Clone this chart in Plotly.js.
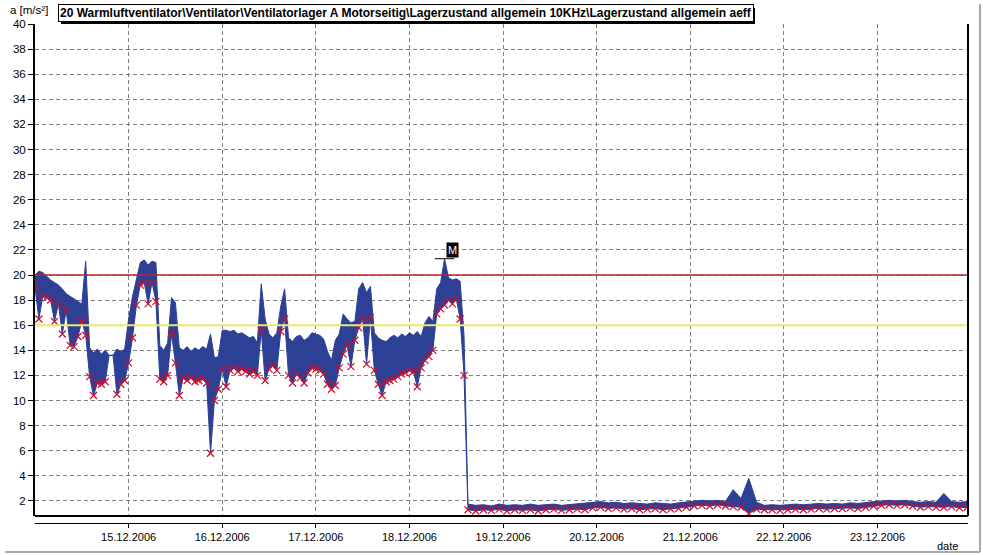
<!DOCTYPE html>
<html><head><meta charset="utf-8">
<script src="https://cdn.plot.ly/plotly-3.0.1.min.js"></script>
<style>html,body{margin:0;padding:0;background:#fff;}#chart{width:983px;height:555px;}</style>
</head><body><div id="chart"></div>
<script>
// ---- data ----
const segAStart = [2006, 11, 14, 0];   // 14.12.2006 00:00, hourly samples
const segAStepHours = 1;
const segAHi = [20.0,20.3,20.2,19.9,19.6,19.4,19.2,18.9,18.5,18.3,18.1,17.9,17.7,21.1,14.2,13.8,14.1,13.7,14.0,13.6,
  13.6,14.1,13.9,14.1,16.5,18.3,19.6,21.0,21.2,20.8,21.1,21.0,14.4,14.0,14.6,18.2,17.8,14.2,14.0,14.3,
  13.9,14.2,14.0,14.3,14.1,15.3,13.4,13.5,15.6,15.6,15.5,15.6,15.3,15.4,15.2,15.0,15.1,14.6,19.3,16.5,
  15.3,15.0,15.4,17.5,18.9,15.0,14.7,15.1,15.2,14.8,15.0,15.4,15.3,15.2,14.9,13.9,13.2,14.8,15.3,16.9,
  16.5,16.2,16.3,18.9,19.4,18.6,19.1,15.4,15.0,14.8,14.7,15.0,15.2,15.0,15.3,15.1,15.4,15.2,15.5,15.1,
  16.2,16.7,16.3,18.9,19.4,21.3,19.8,19.6,19.7,19.5,15.1];
const segALo = [19.0,16.5,18.3,18.2,18.0,16.3,17.7,15.3,17.2,14.4,14.3,15.1,16.3,15.2,11.9,10.4,11.4,11.3,11.5,13.6,
  13.6,10.5,11.3,11.6,13.0,15.0,17.6,19.2,19.4,17.7,19.4,17.9,11.7,11.5,12.0,15.3,13.0,10.4,11.8,11.6,
  11.8,11.5,11.6,11.7,11.4,5.8,10.0,10.9,12.5,11.1,12.4,12.6,12.3,12.5,12.3,12.1,12.3,12.0,15.6,11.6,
  12.5,12.8,12.4,15.5,16.5,12.0,11.4,12.1,11.8,11.4,12.2,12.6,12.5,12.4,12.1,11.3,10.9,11.2,12.6,13.7,
  14.4,12.7,14.8,15.8,16.5,12.9,16.6,12.4,11.3,10.4,11.5,11.6,11.7,11.9,12.1,12.2,12.4,12.3,11.1,12.6,
  13.2,13.5,14.0,16.9,17.3,17.6,18.0,17.7,18.1,16.5,12.0];
const segBStart = [2006, 11, 18, 15];  // 18.12.2006 15:00, two-hourly samples
const segBStepHours = 2;
const segBHi = [1.75,1.65,1.7,1.6,1.75,1.65,1.7,1.65,1.75,1.65,1.7,1.75,1.65,1.7,1.75,1.8,1.85,1.95,1.85,1.9,
  1.8,1.85,1.8,1.75,1.85,1.8,1.75,1.85,1.9,2.0,2.05,2.0,2.05,1.95,2.9,2.2,3.8,1.9,1.65,1.7,
  1.65,1.7,1.75,1.7,1.75,1.8,1.75,1.8,1.75,1.85,1.8,1.9,1.95,2.0,2.05,2.0,2.05,1.95,1.9,1.95,
  1.9,2.6,1.95,1.9,1.95];
const segBLo = [1.3,1.2,1.3,1.25,1.35,1.2,1.3,1.25,1.3,1.2,1.3,1.35,1.25,1.3,1.35,1.3,1.45,1.5,1.4,1.45,
  1.35,1.4,1.3,1.35,1.4,1.3,1.35,1.4,1.5,1.6,1.65,1.6,1.7,1.6,1.55,1.5,1.0,1.35,1.3,1.3,
  1.25,1.3,1.35,1.3,1.35,1.4,1.35,1.4,1.4,1.45,1.4,1.5,1.6,1.65,1.7,1.65,1.7,1.6,1.5,1.55,
  1.5,1.5,1.55,1.45,1.5];
const dateTicks = ['2006-12-15','2006-12-16','2006-12-17','2006-12-18','2006-12-19','2006-12-20','2006-12-21','2006-12-22','2006-12-23'];
const dateTickText = ['15.12.2006','16.12.2006','17.12.2006','18.12.2006','19.12.2006','20.12.2006','21.12.2006','22.12.2006','23.12.2006'];
const yTicks = [2,4,6,8,10,12,14,16,18,20,22,24,26,28,30,32,34,36,38,40];
const xRange = ['2006-12-14 00:00', '2006-12-23 23:12'];
const yRange = [0.8, 40];
const alarmLevel = 20;
const warningLevel = 16;
const seriesTitle = '20 Warmluftventilator\\Ventilator\\Ventilatorlager A Motorseitig\\Lagerzustand allgemein 10KHz\\Lagerzustand allgemein aeff';
const yLabel = 'a [m/s²]';
const xLabel = 'date';
const markerLabel = 'M';

// ---- build time base ----
function stamp(start, h) {
  const t = Date.UTC(start[0], start[1], start[2], start[3]) + h * 3600000;
  return new Date(t).toISOString().replace('T', ' ').slice(0, 19);
}
const times = [], hi = [], lo = [];
segAHi.forEach((v, i) => { times.push(stamp(segAStart, i * segAStepHours)); hi.push(v); lo.push(segALo[i]); });
segBHi.forEach((v, i) => { times.push(stamp(segBStart, i * segBStepHours)); hi.push(v); lo.push(segBLo[i]); });
const mx = [], my = [];
times.forEach((t, i) => { if (hi[i] !== lo[i]) { mx.push(t); my.push(lo[i]); } });
let pk = 0; hi.forEach((v, i) => { if (v > hi[pk]) pk = i; });
const peakT = Date.UTC(segAStart[0], segAStart[1], segAStart[2], segAStart[3]) + pk * segAStepHours * 3600000;
const fmt = t => new Date(t).toISOString().replace('T', ' ').slice(0, 19);

const BLUE = '#2c4096';
const RED = '#c8102e';
const FONT = 'Liberation Sans, Arial, sans-serif';

const traces = [
  { x: times, y: lo, mode: 'lines', line: { color: BLUE, width: 1 }, hoverinfo: 'skip', showlegend: false },
  { x: times, y: hi, mode: 'lines', fill: 'tonexty', fillcolor: BLUE, line: { color: BLUE, width: 1 }, showlegend: false },
  { x: mx, y: my, mode: 'markers', marker: { symbol: 'x-thin', size: 7, line: { color: RED, width: 1.2 }, color: RED }, showlegend: false }
];

const layout = {
  width: 983, height: 555,
  margin: { l: 35, r: 15, t: 24, b: 32 },
  paper_bgcolor: '#ffffff', plot_bgcolor: '#ffffff',
  font: { family: FONT, size: 11, color: '#000' },
  showlegend: false,
  xaxis: {
    type: 'date', range: xRange, anchor: 'free', position: 0,
    tickvals: dateTicks, ticktext: dateTickText,
    showline: true, linecolor: '#000', linewidth: 1,
    ticks: 'outside', ticklen: 4, tickcolor: '#000',
    showgrid: true, gridcolor: '#808080', gridwidth: 1, griddash: '4px,3px',
    zeroline: false, tickfont: { family: FONT, size: 11, color: '#000' }
  },
  yaxis: {
    range: yRange, domain: [0.014, 1], tickvals: yTicks,
    showline: true, linecolor: '#000', linewidth: 2,
    ticks: 'outside', ticklen: 5, tickcolor: '#000',
    showgrid: true, gridcolor: '#808080', gridwidth: 1, griddash: '4px,3px',
    zeroline: false, tickfont: { family: FONT, size: 11.5, color: '#000' }
  },
  shapes: [
    { type: 'line', xref: 'x domain', yref: 'y', x0: 0, x1: 1, y0: alarmLevel, y1: alarmLevel, line: { color: '#b8262b', width: 1.5 }, layer: 'above' },
    { type: 'line', xref: 'x domain', yref: 'y', x0: 0, x1: 1, y0: warningLevel, y1: warningLevel, line: { color: '#eee86a', width: 2 }, layer: 'above' },
    { type: 'line', xref: 'x domain', yref: 'y domain', x0: 0, x1: 1, y0: 0, y1: 0, line: { color: '#000', width: 2 }, layer: 'above' },
    { type: 'line', xref: 'x domain', yref: 'y domain', x0: 1, x1: 1, y0: 0, y1: 1, line: { color: '#000', width: 2 }, layer: 'above' },
    { type: 'line', xref: 'x', yref: 'y', x0: fmt(peakT - 2.5 * 3600000), x1: fmt(peakT + 2.5 * 3600000), y0: hi[pk], y1: hi[pk], line: { color: '#000', width: 1 }, layer: 'above' },
    { type: 'rect', xref: 'paper', yref: 'paper', x0: 0.0279, x1: 0.7717, y0: 1.0, y1: 1.032, fillcolor: '#000', line: { width: 0 }, layer: 'above' },
    { type: 'line', xref: 'paper', yref: 'paper', x0: 1.0129, x1: 1.0129, y0: 1.04, y1: -0.058, line: { color: '#a8a8a8', width: 2 } },
    { type: 'line', xref: 'paper', yref: 'paper', x0: -0.032, x1: 1.0129, y0: -0.058, y1: -0.058, line: { color: '#a8a8a8', width: 2 } }
  ],
  annotations: [
    { xref: 'paper', yref: 'paper', x: -0.029, y: 1.028, xanchor: 'left', yanchor: 'middle', showarrow: false, text: yLabel, font: { family: FONT, size: 11.5, color: '#000' } },
    { xref: 'paper', yref: 'paper', x: 0.0247, y: 1.022, xanchor: 'left', yanchor: 'middle', showarrow: false, text: '<b>' + seriesTitle + '</b>', bgcolor: '#fff', borderpad: 1, borderwidth: 1, bordercolor: '#000', font: { family: FONT, size: 12, color: '#000' } },
    { xref: 'x', yref: 'y', x: fmt(peakT), y: hi[pk], xanchor: 'left', yanchor: 'bottom', xshift: 1, yshift: 1, showarrow: false, text: markerLabel, bgcolor: '#000', borderpad: 1, font: { family: FONT, size: 11, color: '#fff' } },
    { xref: 'paper', yref: 'paper', x: 0.9914, y: -0.046, xanchor: 'right', yanchor: 'middle', showarrow: false, text: xLabel, font: { family: FONT, size: 11, color: '#000' } }
  ]
};
Plotly.newPlot('chart', traces, layout, { displayModeBar: false, staticPlot: true });
</script></body></html>
